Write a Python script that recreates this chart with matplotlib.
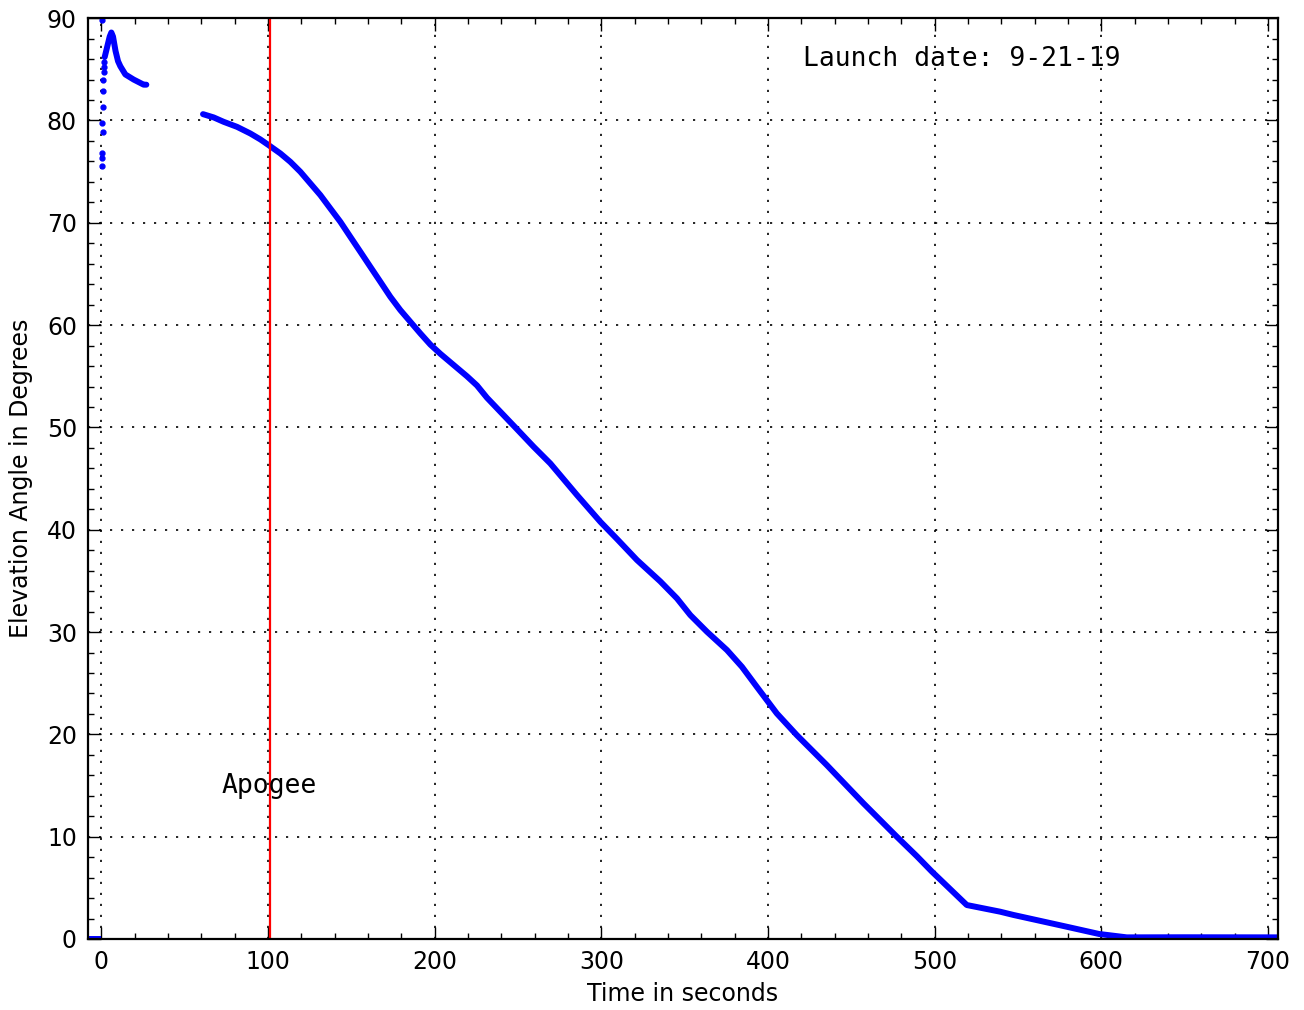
import numpy as np
import matplotlib
matplotlib.use('Agg')
import matplotlib.pyplot as plt
from matplotlib.ticker import MultipleLocator

# pre-launch pad (flat at zero)
pad_t = [-8, 0]
pad_el = [0, 0]

# sparse early samples near launch
dots_t = [0.5, 0.3, 0.6, 1.0, 0.3, 0.9, 1.1, 1.1, 1.5, 1.5, 1.8, 0.4]
dots_el = [75.6, 76.3, 76.8, 78.9, 79.8, 81.3, 82.9, 84.0, 84.7, 85.2, 85.7, 89.8]

# early continuous segment
early_t = [2.0, 3.5, 5.0, 6.0, 7.0, 8.5, 10.0, 11.4, 14.4, 19.4, 23.0, 25.4, 27.0]
early_el = [86.2, 87.2, 88.2, 88.6, 88.2, 86.8, 85.8, 85.3, 84.5, 84.0, 83.7, 83.5, 83.5]

# main track after reacquisition
main_t = [61.0, 67.4, 73.4, 81.4, 89.4, 95.4, 100.4, 107.4, 113.4, 119.4, 125.4,
          131.4, 137.4, 143.4, 149.4, 155.4, 161.4, 167.4, 173.4, 179.4, 185.4,
          191.4, 197.4, 203.4, 211.4, 219.4, 225.4, 231.4, 248.4, 259.4, 269.4,
          285.4, 299.4, 309.4, 321.4, 335.4, 345.4, 353.4, 363.4, 375.4, 384.4,
          393.3, 405.3, 417.3, 435.3, 457.3, 477.3, 489.3, 498.3, 519.3, 539.3,
          547.3, 577.3, 598.7, 615.3, 650.0, 706.0]
main_el = [80.62, 80.30, 79.87, 79.38, 78.73, 78.15, 77.59, 76.78, 75.96, 74.99, 73.85,
           72.71, 71.40, 70.10, 68.63, 67.17, 65.70, 64.24, 62.77, 61.47, 60.33,
           59.19, 58.10, 57.20, 56.10, 55.00, 54.10, 52.90, 50.00, 48.11, 46.48,
           43.39, 40.78, 39.10, 37.04, 34.95, 33.29, 31.66, 30.03, 28.24, 26.60,
           24.65, 22.05, 19.93, 17.00, 13.26, 10.00, 8.10, 6.60, 3.32, 2.67,
           2.35, 1.27, 0.49, 0.16, 0.17, 0.16]

apogee_t = 101

fig = plt.figure(figsize=(13.04, 10.10), dpi=100)
ax = fig.add_axes([0.0675, 0.0703, 0.9125, 0.9117])

ax.plot(pad_t, pad_el, color='b', lw=4.3, solid_capstyle='butt')
ax.plot(dots_t, dots_el, 'b.', ms=7)
ax.plot(early_t, early_el, color='b', lw=4.3, solid_capstyle='round', solid_joinstyle='round')
ax.plot(main_t, main_el, color='b', lw=4.3, solid_capstyle='round', solid_joinstyle='round')
ax.axvline(apogee_t, color='red', lw=1.6)

ax.text(72, 14.3, 'Apogee', family='DejaVu Sans Mono', fontsize=19)
ax.text(421, 85.3, 'Launch date: 9-21-19', family='DejaVu Sans Mono', fontsize=19)

ax.set_xlim(-8, 706)
ax.set_ylim(0, 90)
ax.xaxis.set_major_locator(MultipleLocator(100))
ax.xaxis.set_minor_locator(MultipleLocator(20))
ax.yaxis.set_major_locator(MultipleLocator(10))
ax.yaxis.set_minor_locator(MultipleLocator(2))
ax.tick_params(which='both', direction='in', top=True, right=True, labelsize=17)
ax.tick_params(which='major', length=9, width=1.0, pad=8)
ax.tick_params(which='minor', length=4, width=1.0)
for s in ax.spines.values():
    s.set_linewidth(1.6)
ax.grid(True, which='major', color='black', linestyle=(0, (1.3, 5.3)), lw=1.2)

ax.set_xlabel('Time in seconds', fontsize=17, labelpad=6)
ax.set_ylabel('Elevation Angle in Degrees', fontsize=17, labelpad=10)

fig.savefig('out.png', dpi=100)
